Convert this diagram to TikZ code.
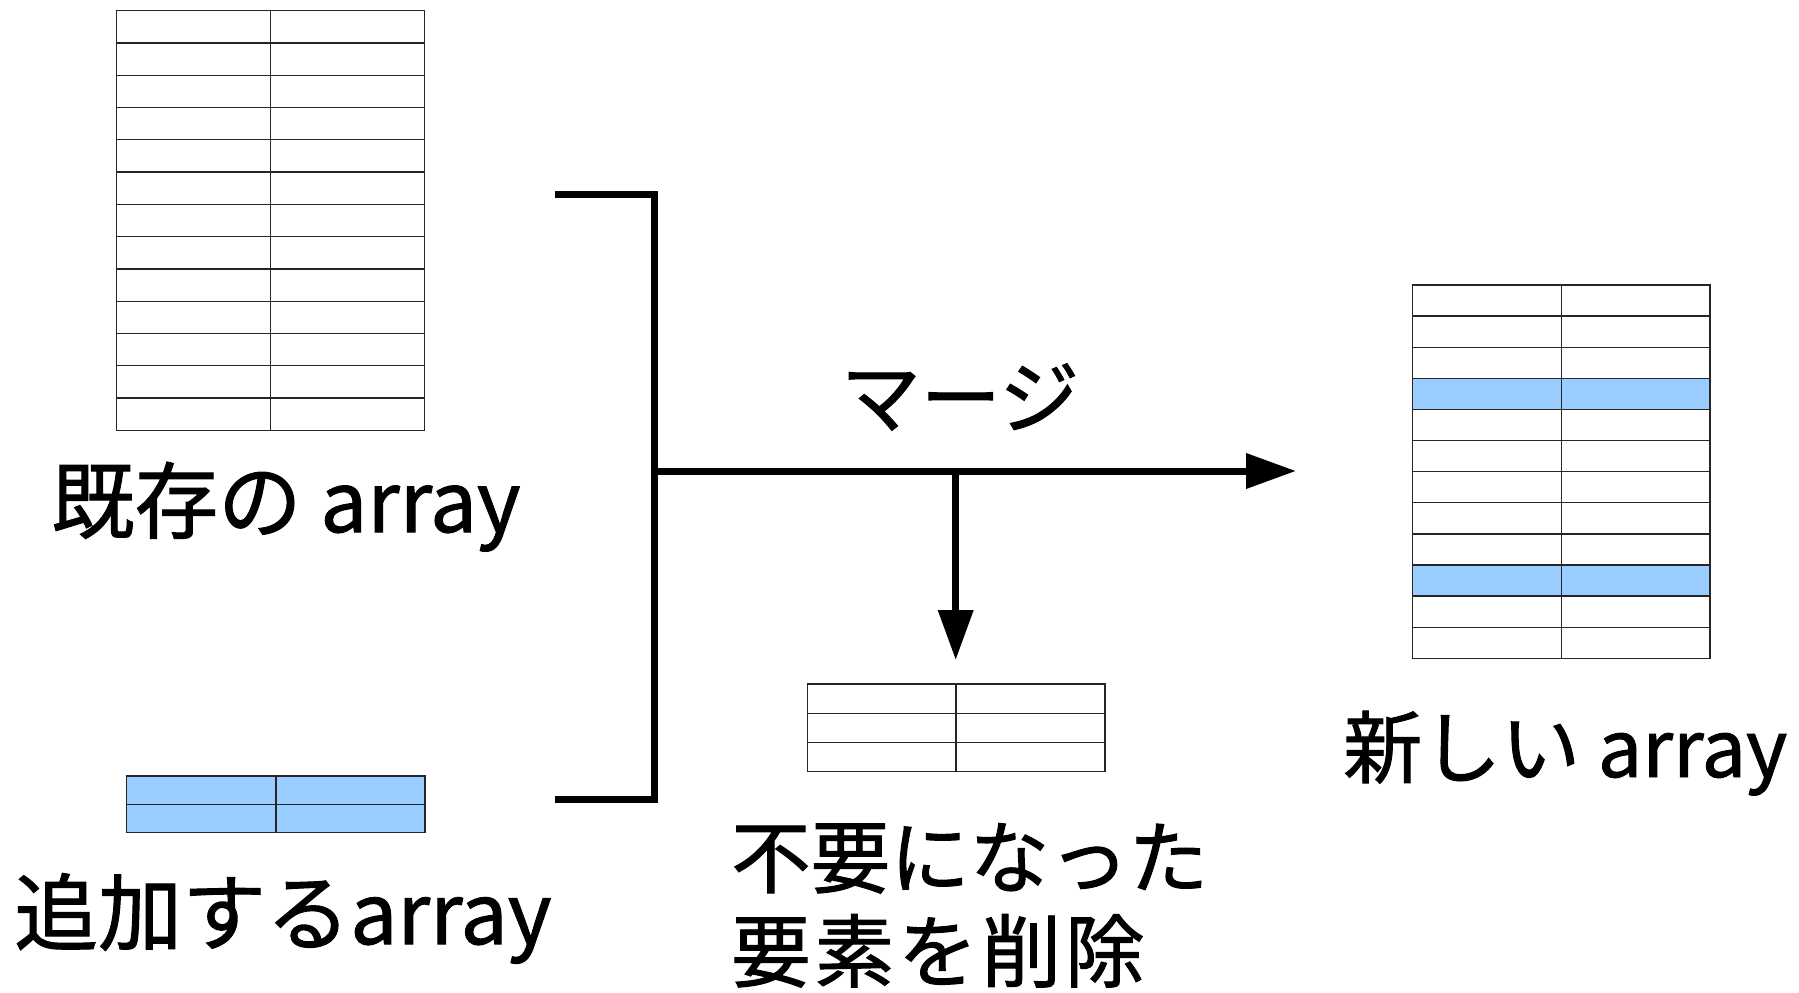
\documentclass[tikz,border=0pt]{standalone}
\usepackage{fontspec}
\setmainfont{Noto Sans CJK JP}[FakeBold=1.2]
\usetikzlibrary{arrows.meta}
\definecolor{rowblue}{HTML}{99CCFF}
\tikzset{
  gridline/.style={draw=black!85, line width=1.3pt},
  bracketline/.style={line width=7pt, line join=miter},
  flowarrow/.style={line width=7pt, -{Triangle[length=50pt,width=34pt]}},
  labeltext/.style={inner sep=0pt, anchor=base west},
}
% name, x1, y1, x2, y2, xmid, rows
\newcommand\arraytbl[7]{%
  \coordinate (#1-nw) at (#2,#3);
  \coordinate (#1-se) at (#4,#5);
  \foreach \i in {1,...,#7}{%
    \draw[gridline] (#2,{#3+(\i-1)*(#5-#3)/#7}) -- (#4,{#3+(\i-1)*(#5-#3)/#7});
  }
  \draw[gridline] (#2,#3) rectangle (#4,#5);
  \draw[gridline] (#6,#3) -- (#6,#5);
}
% x1, y1, x2, y2, rows, row index
\newcommand\bluerow[6]{%
  \fill[rowblue] (#1,{#2+(#6-1)*(#4-#2)/#5}) rectangle (#3,{#2+#6*(#4-#2)/#5});
}
\begin{document}
\begin{tikzpicture}[x=1pt,y=-1pt]
\useasboundingbox (0,0) rectangle (1799,993);

% existing array
\arraytbl{old}{116.7}{10.7}{424.3}{430.3}{270.7}{13}
\node[labeltext, font=\fontsize{83.5}{100}\selectfont] (lblOld) at (51,532) {既存の array};

% array to add
\fill[rowblue] (126.7,776) rectangle (425,832.7);
\arraytbl{add}{126.7}{776}{425}{832.7}{276}{2}
\node[labeltext, font=\fontsize{84}{100}\selectfont] (lblAdd) at (14,944) {追加するarray};

% removed elements
\arraytbl{del}{807.3}{684}{1105}{771.7}{956}{3}
\node[labeltext, font=\fontsize{79.5}{94}\selectfont] (lblDelA) at (731,887) {不要になった};
\node[labeltext, font=\fontsize{79.5}{94}\selectfont] (lblDelB) at (731,981) {要\kern4pt 素\kern4pt を\kern4pt 削\kern4pt 除};

% new array
\bluerow{1412.7}{285}{1710}{658.3}{12}{4}
\bluerow{1412.7}{285}{1710}{658.3}{12}{10}
\arraytbl{new}{1412.7}{285}{1710}{658.3}{1561.3}{12}
\node[labeltext, font=\fontsize{79}{94}\selectfont] (lblNew) at (1343,777) {新しい array};

% bracket and arrows
\coordinate (armTop) at (555,194);
\coordinate (cornerTop) at (654,194);
\coordinate (cornerBot) at (654,799);
\coordinate (armBot) at (555,799);
\coordinate (join) at (654,471);
\coordinate (split) at (955.7,471);
\coordinate (mergeEnd) at (1296,471);
\coordinate (dropEnd) at (955.7,660);

\draw[bracketline] (armTop) -- (cornerTop) -- (cornerBot) -- (armBot);
\draw[flowarrow] (join) -- (mergeEnd);
\draw[flowarrow] (split) -- (dropEnd);

\node[font=\fontsize{80}{94}\selectfont, inner sep=0pt, anchor=base] (lblMerge) at (960,427) {マージ};
\end{tikzpicture}
\end{document}
